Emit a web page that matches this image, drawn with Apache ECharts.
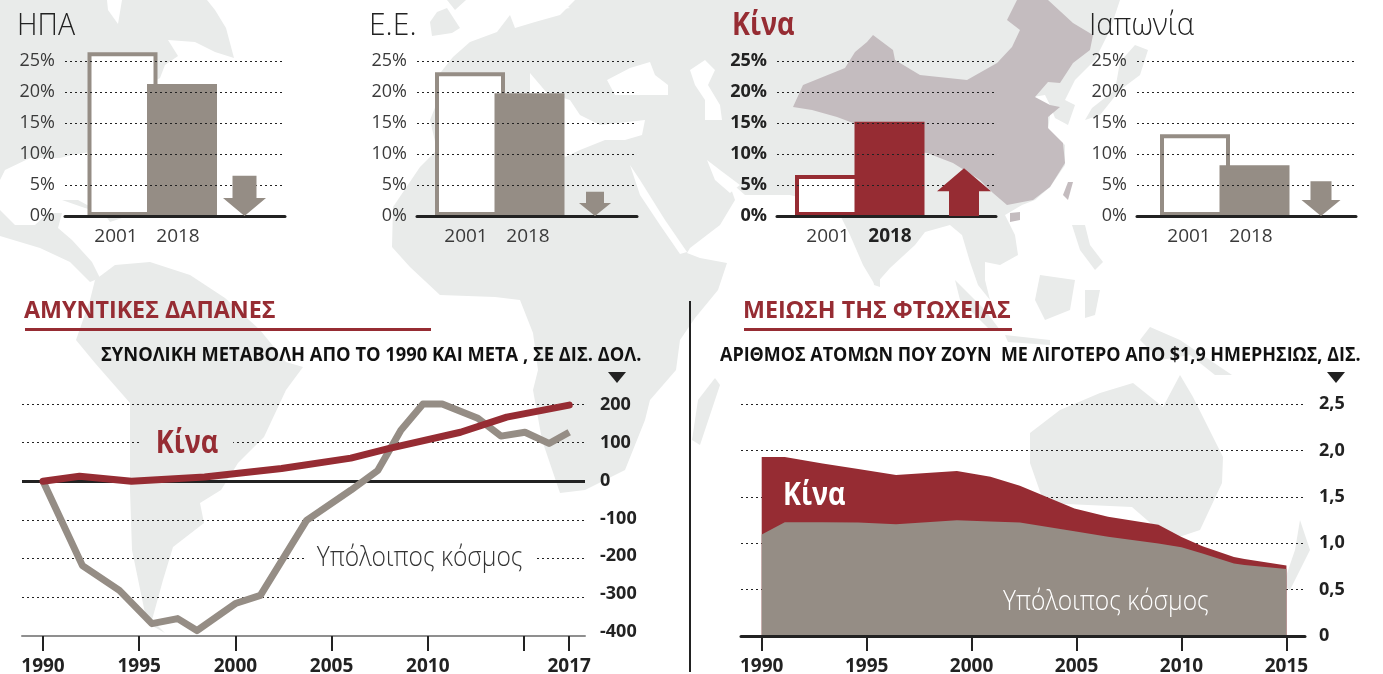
<!DOCTYPE html>
<html>
<head>
<meta charset="utf-8">
<style>html,body{margin:0;padding:0;background:#fff}#c{width:1383px;height:674px}</style>
<script src="https://cdn.jsdelivr.net/npm/echarts@6/dist/echarts.min.js"></script>
</head>
<body>
<div id="c"></div>
<script>
// ---- data ----
const shareYears = ['2001', '2018'];
const shareTicks = [0, 5, 10, 15, 20, 25];
const usaShare = [26.4, 21.3];
const euShare = [23.2, 19.8];
const chinaShare = [6.6, 15.2];
const japanShare = [13.2, 8.2];
const usaArrow = 6.5;
const euArrow = 3.9;
const chinaArrow = 7.7;
const japanArrow = 5.6;

const defenceTickYears = [1990, 1995, 2000, 2005, 2010, 2015, 2017.35];
const defenceTickLabels = ['1990', '1995', '2000', '2005', '2010', '', '2017'];
const defenceValueLabels = [200, 100, 0, -100, -200, -300, -400];
const defenceWorldX = [1990, 1992.05, 1993.97, 1995.66, 1997, 1998, 2000, 2001.3, 2003.7, 2006, 2007.4, 2008.6, 2009.75, 2010.75, 2012.6, 2013.8, 2015.05, 2016.3, 2017.35];
const defenceWorld = [0, -218, -282, -368, -355, -386, -316, -295, -101, -23, 28, 132, 200, 200, 163, 117, 127, 98, 127];
const defenceChinaX = [1990, 1991.9, 1994.6, 1998.4, 2002.4, 2006, 2008, 2011.7, 2014.1, 2017.35];
const defenceChina = [0, 13, 0, 11, 33, 60, 85, 127, 166, 197];

const povertyTickYears = [1990, 1995, 2000, 2005, 2010, 2015];
const povertyX = [1990, 1991.1, 1992.9, 1994.6, 1996.4, 1999.3, 2000.9, 2002.3, 2004.9, 2006.5, 2008.9, 2010, 2011, 2012.5, 2013, 2015];
const povertyWorld = [1.094, 1.227, 1.225, 1.223, 1.205, 1.248, 1.235, 1.223, 1.13, 1.07, 0.996, 0.957, 0.89, 0.78, 0.765, 0.723];
const povertyChina = [0.836, 0.703, 0.635, 0.577, 0.53, 0.529, 0.481, 0.397, 0.244, 0.214, 0.204, 0.111, 0.078, 0.07, 0.065, 0.037];

// ---- styling ----
const GREY = '#958d85', RED = '#962c33', INK = '#222', SOFT = '#3a3a3a', LAND = '#e9ebea', CHINA = '#c4bcbf';
const FONT = '"Open Sans","Noto Sans",sans-serif';
const dotted = {type: [2, 3], color: '#222', width: 1};

// ---- decorative background map outlines (page pixels) ----
const land = [
 [[0,0],[107,0],[108,10],[118,24],[122,0],[207,0],[215,10],[226,28],[234,58],[215,52],[195,42],[168,40],[178,56],[165,65],[160,78],[130,95],[115,120],[100,130],[90,152],[72,155],[60,158],[30,158],[5,170],[0,180]],
 [[0,210],[15,225],[35,225],[48,213],[62,213],[58,228],[72,240],[92,262],[100,278],[90,282],[70,262],[40,248],[0,236]],
 [[62,200],[78,200],[100,212],[85,208]],
 [[105,215],[125,217],[110,222]],
 [[90,300],[95,280],[115,265],[150,262],[190,275],[225,298],[260,330],[286,362],[303,367],[286,390],[264,437],[238,463],[221,490],[200,503],[204,523],[173,547],[163,580],[152,620],[165,633],[147,623],[132,550],[130,490],[130,403],[95,363],[76,340]],
 [[437,77],[453,57],[470,42],[497,32],[510,15],[515,28],[535,22],[560,15],[575,0],[1120,0],[1110,30],[1095,60],[1075,80],[1065,100],[1075,105],[1068,125],[1055,118],[1050,105],[1045,95],[1033,97],[1045,107],[1050,115],[1048,130],[1065,145],[1065,165],[1050,187],[1035,200],[1022,205],[1005,215],[1015,235],[1018,255],[1000,265],[985,262],[985,280],[990,300],[978,285],[970,262],[962,235],[950,225],[925,232],[915,245],[890,268],[875,285],[863,265],[850,235],[840,215],[810,200],[790,195],[770,195],[745,195],[728,180],[735,200],[720,225],[690,248],[687,253],[700,258],[727,263],[718,290],[695,318],[680,340],[676,370],[650,400],[645,420],[625,470],[585,490],[560,493],[542,440],[533,390],[538,370],[533,333],[520,300],[495,297],[440,295],[410,267],[392,247],[393,207],[420,167],[437,150],[430,120],[440,95]],
 [[430,22],[437,12],[447,8],[460,28],[452,33],[432,36]],
 [[447,0],[466,0],[455,10]],
 [[715,378],[720,385],[700,445],[692,440],[698,400]],
 [[872,270],[880,272],[880,287],[874,285]],
 [[1072,225],[1085,225],[1090,245],[1103,262],[1095,270],[1080,250]],
 [[955,280],[985,310],[1000,330],[990,330],[960,300]],
 [[1005,335],[1050,340],[1050,345],[1008,342]],
 [[1040,275],[1075,280],[1070,310],[1045,320],[1035,300]],
 [[1085,290],[1100,290],[1095,315],[1085,318]],
 [[1150,327],[1180,340],[1232,375],[1215,375],[1190,355],[1160,360],[1140,340]],
 [[1120,62],[1135,45],[1148,50],[1140,75],[1120,90],[1100,115],[1085,120],[1092,108],[1115,90]],
 [[1030,433],[1060,410],[1100,393],[1133,383],[1163,407],[1180,375],[1193,397],[1223,457],[1222,483],[1200,530],[1170,540],[1132,507],[1044,503],[1030,463]],
 [[1300,520],[1310,550],[1300,570],[1290,590],[1283,585],[1295,550]]
];
const seas = [
 [[437,128],[445,118],[500,100],[530,95],[530,73],[547,93],[570,100],[580,115],[600,125],[645,120],[642,135],[625,140],[605,140],[580,150],[565,157],[540,150],[500,150],[470,140],[440,135]],
 [[607,80],[630,68],[650,62],[655,75],[668,85],[668,95],[640,95],[615,95]],
 [[690,70],[705,60],[715,70],[708,85],[720,105],[722,120],[705,120],[705,100],[695,85]],
 [[630,165],[640,180],[665,220],[687,252],[680,254],[660,225],[640,195]],
 [[707,160],[720,170],[740,185],[730,193],[715,180]],
 [[510,0],[555,0],[570,8],[540,12],[525,22],[515,12]]
];
const chinaOutline = [[1017,0],[1048,0],[1073,23],[1093,35],[1090,50],[1073,63],[1060,83],[1048,82],[1035,97],[1050,105],[1060,107],[1048,117],[1048,128],[1063,143],[1065,163],[1050,187],[1033,200],[1007,205],[993,193],[980,180],[953,163],[927,153],[900,150],[853,123],[837,117],[812,110],[793,107],[803,85],[845,68],[855,52],[867,42],[873,35],[893,50],[895,60],[920,75],[967,80],[997,63],[1012,47],[1020,30],[1007,20]];
const chinaIslands = [[[1010,213],[1020,212],[1020,220],[1010,222]], [[1068,182],[1073,182],[1068,200],[1063,195]]];

// ---- helpers ----
const poly = (points, fill, z) => ({type: 'polygon', silent: true, z, shape: {points}, style: {fill}});
const txt = (text, x, y, font, fill, scaleX, extra) => ({
  type: 'text', x, y, scaleX: scaleX || 1, z: 100, silent: true,
  style: Object.assign({text, font, fill, textAlign: 'left', textVerticalAlign: 'middle'}, extra || {})
});

const graphics = [];
land.forEach(p => graphics.push(poly(p, LAND, -30)));
seas.forEach(p => graphics.push(poly(p, '#fff', -29)));
graphics.push(poly(chinaOutline, CHINA, -28));
chinaIslands.forEach(p => graphics.push(poly(p, CHINA, -28)));

// panel titles
graphics.push(txt('ΗΠΑ', 17, 26, '300 31px ' + FONT, INK, 0.92));
graphics.push(txt('Ε.Ε.', 369, 26, '300 31px ' + FONT, INK, 0.97));
graphics.push(txt('Κίνα', 732, 26, '700 33px ' + FONT, RED, 0.82));
graphics.push(txt('Ιαπωνία', 1089, 26, '300 31px ' + FONT, INK, 0.94));

// lower section headings
graphics.push(txt('ΑΜΥΝΤΙΚΕΣ ΔΑΠΑΝΕΣ', 24, 311, '700 24px ' + FONT, RED, 0.97));
graphics.push(txt('ΜΕΙΩΣΗ ΤΗΣ ΦΤΩΧΕΙΑΣ', 743, 311, '700 24px ' + FONT, RED, 0.97));
graphics.push({type: 'rect', silent: true, z: 100, shape: {x: 25, y: 328, width: 406, height: 3}, style: {fill: RED}});
graphics.push({type: 'rect', silent: true, z: 100, shape: {x: 744, y: 328, width: 268, height: 3}, style: {fill: RED}});
graphics.push(txt('ΣΥΝΟΛΙΚΗ ΜΕΤΑΒΟΛΗ ΑΠΟ ΤΟ 1990 ΚΑΙ ΜΕΤΑ , ΣΕ ΔΙΣ. ΔΟΛ.', 101, 355, '700 20px ' + FONT, '#111', 0.915));
graphics.push(txt('ΑΡΙΘΜΟΣ ΑΤΟΜΩΝ ΠΟΥ ΖΟΥΝ  ΜΕ ΛΙΓΟΤΕΡΟ ΑΠΟ $1,9 ΗΜΕΡΗΣΙΩΣ, ΔΙΣ.', 720, 355, '700 20px ' + FONT, '#111', 0.897));
graphics.push(poly([[608,372],[626,372],[617,383]], INK, 100));
graphics.push(poly([[1327,372],[1345,372],[1336,383]], INK, 100));
graphics.push({type: 'rect', silent: true, z: 100, shape: {x: 689, y: 301, width: 2, height: 371}, style: {fill: INK}});

// direct labels
graphics.push(txt('Κίνα', 141, 444, '700 33px ' + FONT, RED, 0.82, {backgroundColor: LAND, padding: [0, 18, 0, 18]}));
graphics.push(txt('Υπόλοιπος κόσμος', 304, 558, '300 27px ' + FONT, '#333', 0.91, {backgroundColor: '#fff', padding: [0, 14, 0, 14]}));
graphics.push(txt('Κίνα', 783, 496, '700 33px ' + FONT, '#fff', 0.82));
graphics.push(txt('Υπόλοιπος κόσμος', 1003, 602, '300 27px ' + FONT, '#fff', 0.91));

// ---- the four share panels ----
const STEP = 59.5, TOP = 61, PH = 155;
const panels = [
  {values: usaShare, arrow: usaArrow, up: false, left: 65, right: 285, first: 122.5, arrowAt: 244.5, shaft: 24, head: 43, headH: 18, colour: GREY, labels: [116, 178], bold: false},
  {values: euShare, arrow: euArrow, up: false, left: 417, right: 637, first: 470, arrowAt: 595, shaft: 18, head: 32, headH: 13, colour: GREY, labels: [466, 528], bold: false},
  {values: chinaShare, arrow: chinaArrow, up: true, left: 777, right: 996, first: 830, arrowAt: 964, shaft: 30, head: 54, headH: 23, colour: RED, labels: [828, 890], bold: true},
  {values: japanShare, arrow: japanArrow, up: false, left: 1137, right: 1356, first: 1195, arrowAt: 1321, shaft: 21, head: 39, headH: 16, colour: GREY, labels: [1189, 1251], bold: false}
];

const grids = [], xAxes = [], yAxes = [], series = [];
panels.forEach((p, i) => {
  grids.push({left: p.left, top: TOP, width: p.right - p.left, height: PH, outerBoundsMode: 'none'});
  const toX = px => (px - p.first) / STEP;
  const labelAt = p.labels.map(toX);
  xAxes.push({
    type: 'value', gridIndex: i, min: toX(p.left), max: toX(p.right), z: 3,
    splitLine: {show: false}, axisTick: {show: false},
    axisLine: {show: true, onZero: false, lineStyle: {color: INK, width: 3}},
    axisLabel: {
      customValues: labelAt, margin: 11, fontFamily: FONT, fontSize: 19, color: SOFT,
      formatter: v => {
        const k = labelAt.findIndex(a => Math.abs(a - v) < 1e-6);
        return (p.bold && k === 1) ? '{b|' + shareYears[k] + '}' : shareYears[k];
      },
      rich: {b: {fontFamily: FONT, fontSize: 19, fontWeight: 700, color: INK}}
    }
  });
  yAxes.push({
    type: 'value', gridIndex: i, min: 0, max: 25, interval: 5, z: 3,
    splitLine: {show: true, lineStyle: dotted}, axisTick: {show: false}, axisLine: {show: false},
    axisLabel: {margin: 10, fontFamily: FONT, fontSize: 18, fontWeight: p.bold ? 700 : 400, color: p.bold ? INK : SOFT, formatter: '{value}%'}
  });
  series.push({
    type: 'bar', name: 'share' + i, xAxisIndex: i, yAxisIndex: i, barWidth: 70, clip: false, z: 2, silent: true,
    data: p.values.map((v, k) => ({
      value: [k, v],
      itemStyle: {color: k === 0 ? '#fff' : p.colour, borderColor: p.colour, borderWidth: 4}
    }))
  });
  series.push({
    type: 'custom', name: 'change' + i, xAxisIndex: i, yAxisIndex: i, z: 5, silent: true, clip: false,
    data: [[toX(p.arrowAt), p.arrow]],
    encode: {x: 0, y: 1},
    renderItem: (params, api) => {
      const a = api.coord([api.value(0), api.value(1)]), b = api.coord([api.value(0), 0]);
      const x = a[0], s = p.shaft / 2, h = p.head / 2;
      const pts = p.up
        ? [[x, a[1]], [x + h, a[1] + p.headH], [x + s, a[1] + p.headH], [x + s, b[1]], [x - s, b[1]], [x - s, a[1] + p.headH], [x - h, a[1] + p.headH]]
        : [[x - s, a[1]], [x + s, a[1]], [x + s, b[1] - p.headH], [x + h, b[1] - p.headH], [x, b[1]], [x - h, b[1] - p.headH], [x - s, b[1] - p.headH]];
      return {type: 'polygon', shape: {points: pts}, style: {fill: p.colour}};
    }
  });
});

// ---- defence spending line chart (grid 4) ----
const D = 19.24;
grids.push({left: 22, top: 404, width: 563, height: 232, outerBoundsMode: 'none'});
xAxes.push({
  type: 'value', gridIndex: 4, min: 1990 - 21 / D, max: 1990 + 542 / D,
  splitLine: {show: false},
  axisLine: {show: true, onZero: false, lineStyle: {color: '#8f8f8f', width: 2}},
  axisTick: {show: true, customValues: defenceTickYears, length: 15, lineStyle: {color: INK, width: 2}},
  axisLabel: {
    customValues: defenceTickYears.filter((_, i) => defenceTickLabels[i] !== ''), margin: 21,
    fontFamily: FONT, fontSize: 19, fontWeight: 700, color: INK,
    formatter: v => defenceTickLabels[defenceTickYears.indexOf(v)]
  }
});
// value axis that owns the gridlines and the lines
yAxes.push({
  type: 'value', gridIndex: 4, position: 'right', min: -400, max: 200, interval: 100,
  splitLine: {show: true, lineStyle: dotted}, axisTick: {show: false}, axisLine: {show: false},
  axisLabel: {show: false}
});
// the printed scale of tick labels sits on a slightly tighter spacing than the gridlines
yAxes.push({
  type: 'value', gridIndex: 4, position: 'right', min: -410.6, max: 202.6,
  splitLine: {show: false}, axisTick: {show: false}, axisLine: {show: false},
  axisLabel: {customValues: defenceValueLabels, showMinLabel: true, showMaxLabel: true, margin: 15, fontFamily: FONT, fontSize: 18, fontWeight: 700, color: INK}
});
series.push({
  type: 'line', name: 'Υπόλοιπος κόσμος', xAxisIndex: 4, yAxisIndex: 4, z: 3, clip: false, silent: true,
  showSymbol: false, data: defenceWorldX.map((x, i) => [x, defenceWorld[i]]),
  lineStyle: {color: GREY, width: 7, join: 'round'},
  markLine: {silent: true, z: 2, symbol: 'none', label: {show: false}, lineStyle: {color: INK, type: 'solid', width: 3}, data: [{yAxis: 0}]}
});
series.push({
  type: 'line', name: 'Κίνα', xAxisIndex: 4, yAxisIndex: 4, z: 4, clip: false, silent: true,
  showSymbol: false, data: defenceChinaX.map((x, i) => [x, defenceChina[i]]),
  lineStyle: {color: RED, width: 7, join: 'round', cap: 'round'}
});

// ---- poverty area chart (grid 5): China is drawn on top of the rest of the world ----
const W = 20.99;
grids.push({left: 741, top: 404, width: 564, height: 232, outerBoundsMode: 'none'});
xAxes.push({
  type: 'value', gridIndex: 5, min: 1990 - 20.7 / W, max: 1990 + 543.3 / W, z: 6,
  splitLine: {show: false},
  axisLine: {show: true, onZero: false, lineStyle: {color: INK, width: 3}},
  axisTick: {show: true, customValues: povertyTickYears, length: 15, lineStyle: {color: INK, width: 2}},
  axisLabel: {customValues: povertyTickYears, margin: 21, fontFamily: FONT, fontSize: 19, fontWeight: 700, color: INK, formatter: v => String(v)}
});
yAxes.push({
  type: 'value', gridIndex: 5, position: 'right', min: 0, max: 2.5, interval: 0.5,
  splitLine: {show: true, lineStyle: dotted}, axisTick: {show: false}, axisLine: {show: false},
  axisLabel: {margin: 14, fontFamily: FONT, fontSize: 18, fontWeight: 700, color: INK, formatter: v => v === 0 ? '0' : v.toFixed(1).replace('.', ',')}
});
series.push({
  type: 'line', name: 'Κίνα', xAxisIndex: 5, yAxisIndex: 5, z: 2, silent: true, clip: false,
  showSymbol: false, data: povertyX.map((x, i) => [x, +(povertyWorld[i] + povertyChina[i]).toFixed(3)]),
  lineStyle: {width: 0}, areaStyle: {color: RED, opacity: 1}
});
series.push({
  type: 'line', name: 'Υπόλοιπος κόσμος', xAxisIndex: 5, yAxisIndex: 6, z: 3, silent: true, clip: false,
  showSymbol: false, data: povertyX.map((x, i) => [x, povertyWorld[i]]),
  lineStyle: {width: 0}, areaStyle: {color: GREY, opacity: 1}
});
// poverty series both belong to the poverty value axis, which follows the two defence axes
series.forEach(s => { if (s.xAxisIndex === 5) s.yAxisIndex = 6; });
xAxes[4].z = 1;

const chart = echarts.init(document.getElementById('c'), null, {renderer: 'canvas', width: 1383, height: 674});
chart.setOption({
  animation: false,
  backgroundColor: '#fff',
  tooltip: {show: false},
  legend: {show: false},
  grid: grids,
  xAxis: xAxes,
  yAxis: yAxes,
  series,
  graphic: {elements: graphics}
});
</script>
</body>
</html>
